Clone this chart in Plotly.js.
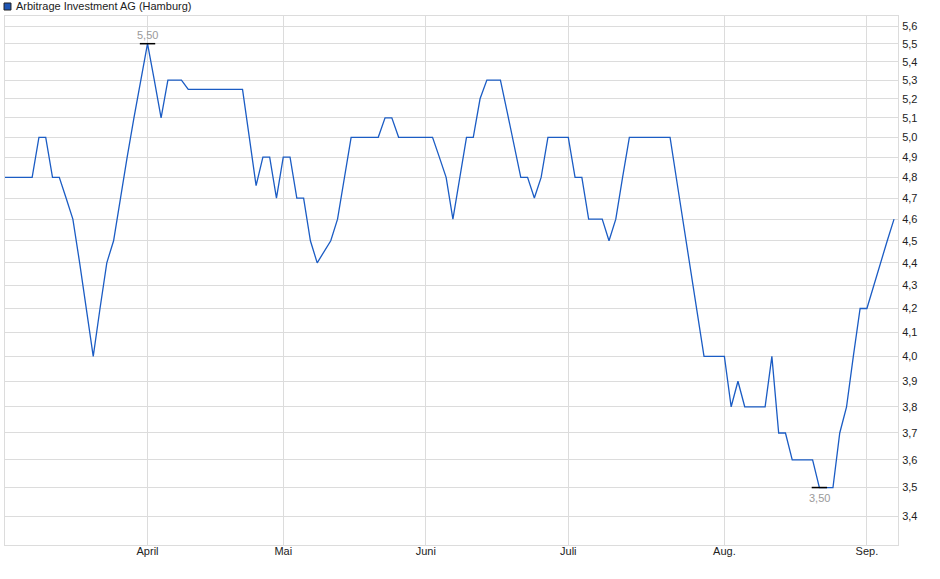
<!DOCTYPE html>
<html>
<head>
<meta charset="utf-8">
<script src="https://cdn.plot.ly/plotly-3.0.1.min.js"></script>
<style>
  html, body { margin: 0; padding: 0; background: #fff; }
  #chart { width: 940px; height: 579px; }
</style>
</head>
<body>
<div id="chart"></div>
<script>
var seriesName = "Arbitrage Investment AG (Hamburg)";

// trading days (Hamburg), March - September 2014
var dates = [
  "2014-03-03","2014-03-04","2014-03-05","2014-03-06","2014-03-07",
  "2014-03-10","2014-03-11","2014-03-12","2014-03-13","2014-03-14",
  "2014-03-17","2014-03-18","2014-03-19","2014-03-20","2014-03-21",
  "2014-03-24","2014-03-25","2014-03-26","2014-03-27","2014-03-28",
  "2014-03-31","2014-04-01","2014-04-02","2014-04-03","2014-04-04",
  "2014-04-07","2014-04-08","2014-04-09","2014-04-10","2014-04-11",
  "2014-04-14","2014-04-15","2014-04-16","2014-04-17","2014-04-22",
  "2014-04-23","2014-04-24","2014-04-25","2014-04-28","2014-04-29",
  "2014-04-30","2014-05-02","2014-05-05","2014-05-06","2014-05-07",
  "2014-05-08","2014-05-09","2014-05-12","2014-05-13","2014-05-14",
  "2014-05-15","2014-05-16","2014-05-19","2014-05-20","2014-05-21",
  "2014-05-22","2014-05-23","2014-05-26","2014-05-27","2014-05-28",
  "2014-05-29","2014-05-30","2014-06-02","2014-06-03","2014-06-04",
  "2014-06-05","2014-06-06","2014-06-09","2014-06-10","2014-06-11",
  "2014-06-12","2014-06-13","2014-06-16","2014-06-17","2014-06-18",
  "2014-06-19","2014-06-20","2014-06-23","2014-06-24","2014-06-25",
  "2014-06-26","2014-06-27","2014-06-30","2014-07-01","2014-07-02",
  "2014-07-03","2014-07-04","2014-07-07","2014-07-08","2014-07-09",
  "2014-07-10","2014-07-11","2014-07-14","2014-07-15","2014-07-16",
  "2014-07-17","2014-07-18","2014-07-21","2014-07-22","2014-07-23",
  "2014-07-24","2014-07-25","2014-07-28","2014-07-29","2014-07-30",
  "2014-07-31","2014-08-01","2014-08-04","2014-08-05","2014-08-06",
  "2014-08-07","2014-08-08","2014-08-11","2014-08-12","2014-08-13",
  "2014-08-14","2014-08-15","2014-08-18","2014-08-19","2014-08-20",
  "2014-08-21","2014-08-22","2014-08-25","2014-08-26","2014-08-27",
  "2014-08-28","2014-08-29","2014-09-01","2014-09-02","2014-09-03",
  "2014-09-04","2014-09-05"
];

var prices = [
  4.8, 4.8, 4.8, 4.8, 4.8,
  5.0, 5.0, 4.8, 4.8, 4.7,
  4.6, 4.4, 4.2, 4.0, 4.2,
  4.4, 4.5, 4.7, 4.9, 5.1,
  5.3, 5.5, 5.3, 5.1, 5.3,
  5.3, 5.3, 5.25, 5.25, 5.25,
  5.25, 5.25, 5.25, 5.25, 5.25,
  5.25, 5.0, 4.76, 4.9, 4.9,
  4.7, 4.9, 4.9, 4.7, 4.7,
  4.5, 4.4, 4.45, 4.5, 4.6,
  4.8, 5.0, 5.0, 5.0, 5.0,
  5.0, 5.1, 5.1, 5.0, 5.0,
  5.0, 5.0, 5.0, 5.0, 4.9,
  4.8, 4.6, 4.8, 5.0, 5.0,
  5.2, 5.3, 5.3, 5.3, 5.13,
  4.97, 4.8, 4.8, 4.7, 4.8,
  5.0, 5.0, 5.0, 5.0, 4.8,
  4.8, 4.6, 4.6, 4.6, 4.5,
  4.6, 4.8, 5.0, 5.0, 5.0,
  5.0, 5.0, 5.0, 5.0, 4.78,
  4.57, 4.37, 4.18, 4.0, 4.0,
  4.0, 4.0, 3.8, 3.9, 3.8,
  3.8, 3.8, 3.8, 4.0, 3.7,
  3.7, 3.6, 3.6, 3.6, 3.6,
  3.5, 3.5, 3.5, 3.7, 3.8,
  4.0, 4.2, 4.2, 4.3, 4.4,
  4.5, 4.6
];

var holidays = ["2014-04-18", "2014-04-21", "2014-05-01"];

var monthTicks = ["2014-04-01","2014-05-02","2014-06-02","2014-07-01","2014-08-01","2014-09-01"];
var monthLabels = ["April","Mai","Juni","Juli","Aug.","Sep."];

var yTicks = [3.4,3.5,3.6,3.7,3.8,3.9,4.0,4.1,4.2,4.3,4.4,4.5,4.6,4.7,4.8,4.9,5.0,5.1,5.2,5.3,5.4,5.5,5.6];

// high / low markers
var maxVal = Math.max(...prices);
var minVal = Math.min(...prices);
var maxDate = dates[prices.indexOf(maxVal)];
var minDate = dates[prices.indexOf(minVal)];

function fmt(v) { return v.toFixed(2).replace('.', ','); }

var font = { family: '"Liberation Sans", Arial, sans-serif', size: 11, color: '#222' };
var gridColor = '#dcdcdc';

var data = [
  {
    x: dates,
    y: prices,
    type: 'scatter',
    mode: 'lines',
    line: { color: '#1b5cc4', width: 1.3 },
    hoverinfo: 'x+y',
    showlegend: false
  },
  {
    x: [maxDate, minDate],
    y: [maxVal, minVal],
    type: 'scatter',
    mode: 'markers',
    marker: { symbol: 'line-ew', size: 11, color: '#000', line: { color: '#000', width: 1.5 } },
    hoverinfo: 'skip',
    showlegend: false
  }
];

var layout = {
  width: 940,
  height: 579,
  margin: { l: 5, r: 42, t: 16, b: 34, pad: 0 },
  paper_bgcolor: '#fff',
  plot_bgcolor: '#fff',
  font: font,
  separators: ',.',
  showlegend: false,
  xaxis: {
    type: 'date',
    range: ['2014-03-03', '2014-09-05 14:00'],
    rangebreaks: [
      { bounds: ['sat', 'mon'] },
      { values: holidays }
    ],
    tickmode: 'array',
    tickvals: monthTicks,
    ticktext: monthLabels,
    ticks: '',
    showgrid: true,
    gridcolor: gridColor,
    gridwidth: 1,
    showline: true,
    linecolor: gridColor,
    linewidth: 1,
    mirror: true,
    zeroline: false,
    tickfont: font,
    ticklabelstandoff: -4
  },
  yaxis: {
    type: 'log',
    side: 'right',
    range: [0.51866, 0.75261],
    tickmode: 'array',
    tickvals: yTicks,
    tickformat: '.1f',
    ticks: '',
    showgrid: true,
    gridcolor: gridColor,
    gridwidth: 1,
    showline: true,
    linecolor: gridColor,
    linewidth: 1,
    mirror: true,
    zeroline: false,
    tickfont: font,
    ticklabelstandoff: 1
  },
  shapes: [
    {
      type: 'rect', xref: 'paper', yref: 'paper',
      x0: -0.0011, x1: 0.0067, y0: 1.0113, y1: 1.0246,
      fillcolor: '#1e55b5',
      line: { color: '#222', width: 1 }
    }
  ],
  annotations: [
    {
      xref: 'paper', yref: 'paper', x: 0.0100, y: 1.018,
      xanchor: 'left', yanchor: 'middle', showarrow: false,
      text: seriesName,
      font: { family: font.family, size: 11, color: '#222' }
    },
    {
      x: maxDate, y: Math.log10(maxVal), xref: 'x', yref: 'y',
      text: fmt(maxVal), showarrow: false, yanchor: 'bottom', yshift: 1,
      font: { family: font.family, size: 11, color: '#9a9a9a' }
    },
    {
      x: minDate, y: Math.log10(minVal), xref: 'x', yref: 'y',
      text: fmt(minVal), showarrow: false, yanchor: 'top', yshift: -2,
      font: { family: font.family, size: 11, color: '#9a9a9a' }
    }
  ]
};

Plotly.newPlot('chart', data, layout, { displayModeBar: false, staticPlot: true });
</script>
</body>
</html>
